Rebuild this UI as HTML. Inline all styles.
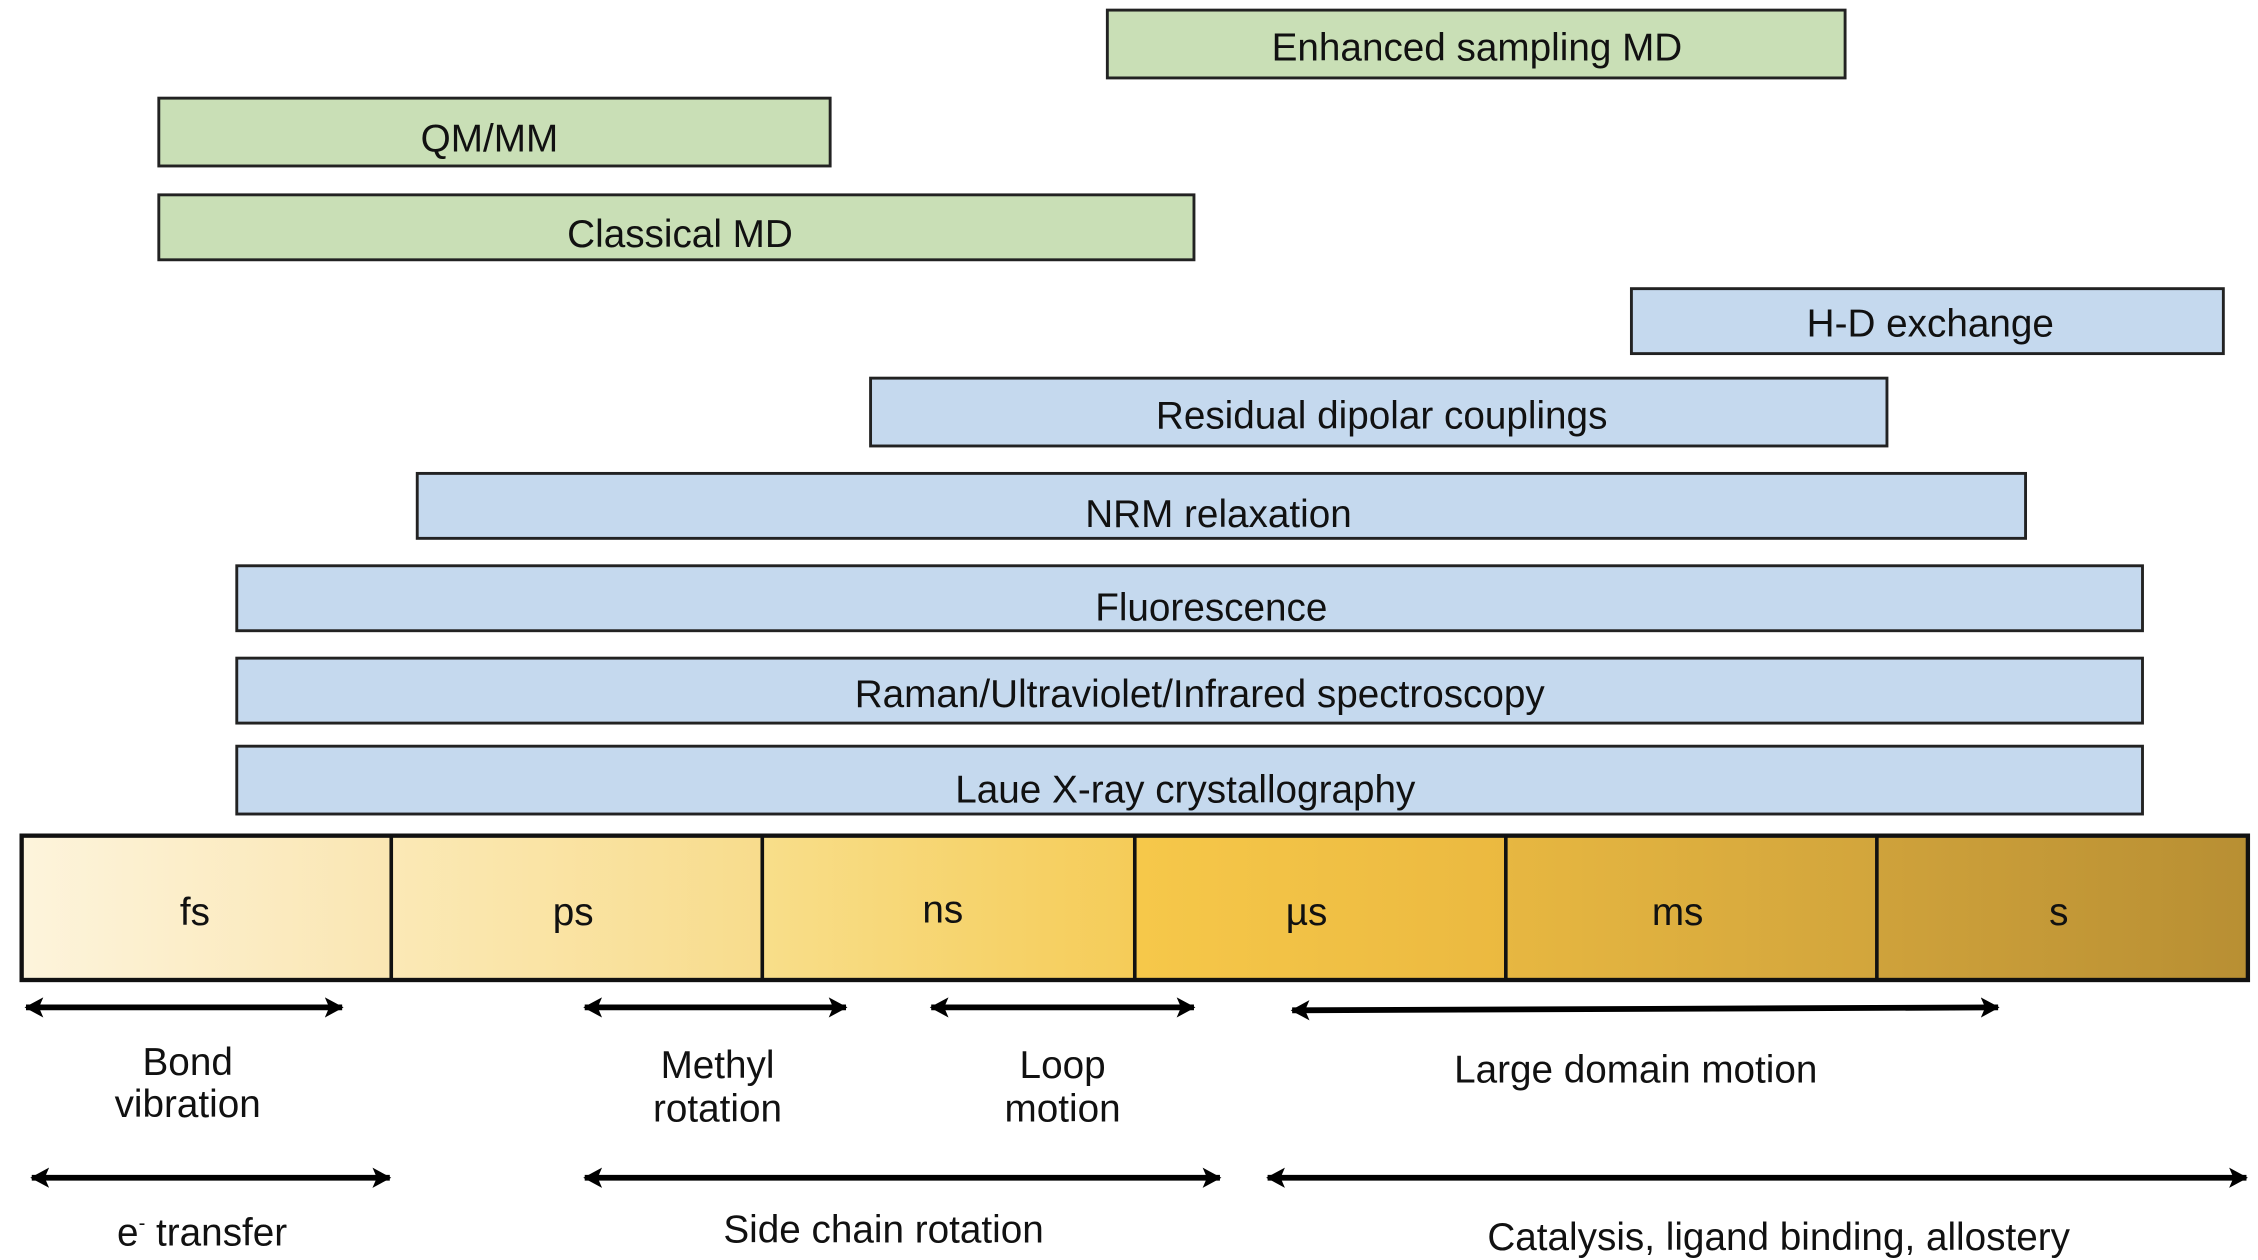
<!DOCTYPE html>
<html><head><style>html,body{margin:0;padding:0;background:#fff}svg{display:block}</style></head>
<body>
<svg width="2258" height="1260" viewBox="0 0 1564 873" preserveAspectRatio="none" xmlns="http://www.w3.org/2000/svg" font-family="Liberation Sans, Arial, sans-serif" font-size="26.8" text-anchor="middle">
<defs>
<linearGradient id="g1"><stop offset="0" stop-color="#fdf4dc"/><stop offset="1" stop-color="#fae6b2"/></linearGradient>
<linearGradient id="g2"><stop offset="0" stop-color="#fbe9b6"/><stop offset="1" stop-color="#f8dc8c"/></linearGradient>
<linearGradient id="g3"><stop offset="0" stop-color="#f8de8a"/><stop offset="1" stop-color="#f5cc58"/></linearGradient>
<linearGradient id="g4"><stop offset="0" stop-color="#f6c84a"/><stop offset="1" stop-color="#ebb940"/></linearGradient>
<linearGradient id="g5"><stop offset="0" stop-color="#e7b741"/><stop offset="1" stop-color="#d2a53c"/></linearGradient>
<linearGradient id="g6"><stop offset="0" stop-color="#cfa23b"/><stop offset="1" stop-color="#b88f33"/></linearGradient>
<marker id="ah" markerWidth="14" markerHeight="14" refX="12" refY="7" orient="auto-start-reverse" markerUnits="userSpaceOnUse"><path d="M0,0 L13,7 L0,14 L3,7 Z" fill="#000"/></marker>
</defs>
<g stroke="#222" stroke-width="2">
<rect x="767" y="7" width="511" height="47" fill="#c9dfb6"/>
<rect x="110" y="68" width="465" height="47" fill="#c9dfb6"/>
<rect x="110" y="135" width="717" height="45" fill="#c9dfb6"/>
<rect x="1130" y="200" width="410" height="45" fill="#c5d9ee"/>
<rect x="603" y="262" width="704" height="47" fill="#c5d9ee"/>
<rect x="289" y="328" width="1114" height="45" fill="#c5d9ee"/>
<rect x="164" y="392" width="1320" height="45" fill="#c5d9ee"/>
<rect x="164" y="456" width="1320" height="45" fill="#c5d9ee"/>
<rect x="164" y="517" width="1320" height="47" fill="#c5d9ee"/>
</g>
<g fill="#111">
<text x="1023" y="42">Enhanced sampling MD</text>
<text x="339" y="105">QM/MM</text>
<text x="471" y="171">Classical MD</text>
<text x="1337" y="233">H-D exchange</text>
<text x="957" y="297">Residual dipolar couplings</text>
<text x="844" y="365">NRM relaxation</text>
<text x="839" y="430">Fluorescence</text>
<text x="831" y="490">Raman/Ultraviolet/Infrared spectroscopy</text>
<text x="821" y="556">Laue X-ray crystallography</text>
</g>
<rect x="15" y="579" width="257" height="100" fill="url(#g1)"/>
<rect x="272" y="579" width="257" height="100" fill="url(#g2)"/>
<rect x="529" y="579" width="257" height="100" fill="url(#g3)"/>
<rect x="786" y="579" width="257" height="100" fill="url(#g4)"/>
<rect x="1043" y="579" width="257" height="100" fill="url(#g5)"/>
<rect x="1300" y="579" width="257" height="100" fill="url(#g6)"/>
<rect x="15" y="579" width="1542" height="100" fill="none" stroke="#111" stroke-width="3"/>
<g stroke="#111" stroke-width="2.5">
<line x1="271" y1="579" x2="271" y2="679"/><line x1="528" y1="579" x2="528" y2="679"/>
<line x1="786" y1="579" x2="786" y2="679"/><line x1="1043" y1="579" x2="1043" y2="679"/>
<line x1="1300" y1="579" x2="1300" y2="679"/>
</g>
<g fill="#111">
<text x="135" y="641">fs</text><text x="397" y="641">ps</text><text x="653" y="639">ns</text>
<text x="905" y="641">µs</text><text x="1162" y="641">ms</text><text x="1426" y="641">s</text>
</g>
<g stroke="#000" stroke-width="4" marker-start="url(#ah)" marker-end="url(#ah)">
<line x1="18" y1="698" x2="237" y2="698"/>
<line x1="405" y1="698" x2="586" y2="698"/>
<line x1="645" y1="698" x2="827" y2="698"/>
<line x1="895" y1="700" x2="1384" y2="698"/>
<line x1="22" y1="816" x2="270" y2="816"/>
<line x1="405" y1="816" x2="845" y2="816"/>
<line x1="878" y1="816" x2="1556" y2="816"/>
</g>
<g fill="#111">
<text x="130" y="745">Bond</text><text x="130" y="774">vibration</text>
<text x="497" y="747">Methyl</text><text x="497" y="777">rotation</text>
<text x="736" y="747">Loop</text><text x="736" y="777">motion</text>
<text x="1133" y="750">Large domain motion</text>
<text x="140" y="863">e<tspan font-size="14" dy="-11">-</tspan><tspan dy="11"> transfer</tspan></text>
<text x="612" y="861">Side chain rotation</text>
<text x="1232" y="866">Catalysis, ligand binding, allostery</text>
</g>
</svg>
</body></html>
